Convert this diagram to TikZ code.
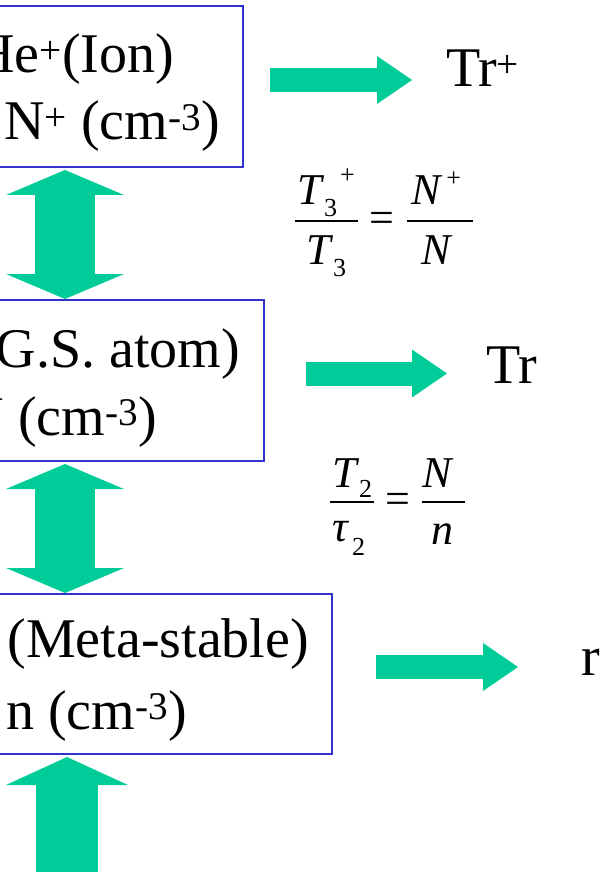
\documentclass[tikz,border=0pt]{standalone}
\usepackage{fontspec}
\setmainfont{Liberation Serif}
\usetikzlibrary{arrows.meta}
\definecolor{arrowgreen}{HTML}{00CC99}
\definecolor{boxblue}{HTML}{3333CC}
\newcommand{\smallfig}[1]{{\upshape\fontsize{26}{26}\selectfont #1}}
\begin{document}
\begin{tikzpicture}[x=1pt,y=-1pt,
  box/.style={draw=boxblue, line width=2.4pt, rectangle, outer sep=0pt, inner sep=0pt},
  big/.style={font=\fontsize{56}{60}\selectfont, inner sep=0pt, outer sep=0pt},
  eqtext/.style={font=\fontsize{44}{46}\selectfont, inner sep=0pt, outer sep=0pt},
  fracbar/.style={draw=black, line width=1.8pt},
  harrow/.style={draw=arrowgreen, line width=24pt, -{Triangle[length=35pt,width=48pt,line width'=0pt]}},
  dblarrow/.style={draw=arrowgreen, line width=60pt, {Triangle[length=25pt,width=118pt,line width'=0pt]}-{Triangle[length=25pt,width=118pt,line width'=0pt]}},
  uparrow/.style={draw=arrowgreen, line width=62pt, -{Triangle[length=28pt,width=122pt,line width'=0pt]}}
]
\useasboundingbox (0,0) rectangle (605,874);
\clip (0,0) rectangle (605,874);

% boxes
\node[box, minimum width=356pt, minimum height=161pt] (box1) at (65,86.5) {};
\node[box, minimum width=398pt, minimum height=161pt] (box2) at (65,380.5) {};
\node[box, minimum width=534pt, minimum height=160pt] (box3) at (65,674) {};

% box texts
\node[big, anchor=base east] (b1a) at (174,73) {He\textsuperscript{+}(Ion)};
\node[big, anchor=base east] (b1b) at (220,140) {N\textsuperscript{+} (cm\textsuperscript{-3})};
\node[big, anchor=base east] (b2a) at (240,367) {(G.S. atom)};
\node[big, anchor=base east] (b2b) at (157,435) {N (cm\textsuperscript{-3})};
\node[big, anchor=base east] (b3a) at (309,657) {(Meta-stable)};
\node[big, anchor=base east] (b3b) at (187,729) {n (cm\textsuperscript{-3})};

% right labels
\node[big, anchor=base west] (tr1) at (446,87) {Tr\textsuperscript{+}};
\node[big, anchor=base west] (tr2) at (486,383) {Tr};
\node[big, anchor=base west] (tr3) at (581,675) {r};

% vertical arrows
\draw[dblarrow] ([yshift=-3pt]box1.south) -- ([yshift=1pt]box2.north);
\draw[dblarrow] ([yshift=-3pt]box2.south) -- ([yshift=1pt]box3.north);
\coordinate (bot) at (67,872);
\draw[uparrow] (bot) -- ([xshift=2pt,yshift=-3pt]box3.south);

% horizontal arrows
\coordinate (r1s) at (270,80);  \coordinate (r1e) at (412,80);
\coordinate (r2s) at (306,373.5); \coordinate (r2e) at (447,373.5);
\coordinate (r3s) at (376,667); \coordinate (r3e) at (518,667);
\draw[harrow] (r1s) -- (r1e);
\draw[harrow] (r2s) -- (r2e);
\draw[harrow] (r3s) -- (r3e);

% equation 1
\node[eqtext, anchor=base west] (e1n) at (297,205) {\textit{T}\raisebox{-12pt}{\smallfig{3}}\hspace{3pt}\raisebox{21pt}{\smallfig{+}}};
\node[eqtext, anchor=base west] (e1d) at (306,265) {\textit{T}\raisebox{-12pt}{\smallfig{3}}};
\draw[fracbar] (295,221) -- (358,221);
\node[eqtext, anchor=base] (e1eq) at (381.5,233) {=};
\node[eqtext, anchor=base west] (e1n2) at (411,205) {\textit{N}\hspace{4pt}\raisebox{18pt}{\smallfig{+}}};
\node[eqtext, anchor=base west] (e1d2) at (421,265) {\textit{N}};
\draw[fracbar] (407,221) -- (473,221);

% equation 2
\node[eqtext, anchor=base west] (e2n) at (332,487) {\textit{T}\raisebox{-10pt}{\smallfig{2}}};
\node[eqtext, anchor=base west] (e2d) at (332,541) {\textit{τ}\hspace{3pt}\raisebox{-14pt}{\smallfig{2}}};
\draw[fracbar] (330,502) -- (374,502);
\node[eqtext, anchor=base] (e2eq) at (397.5,513) {=};
\node[eqtext, anchor=base west] (e2n2) at (422,487) {\textit{N}};
\node[eqtext, anchor=base west] (e2d2) at (431,544) {\textit{n}};
\draw[fracbar] (422,502) -- (465,502);
\end{tikzpicture}
\end{document}
